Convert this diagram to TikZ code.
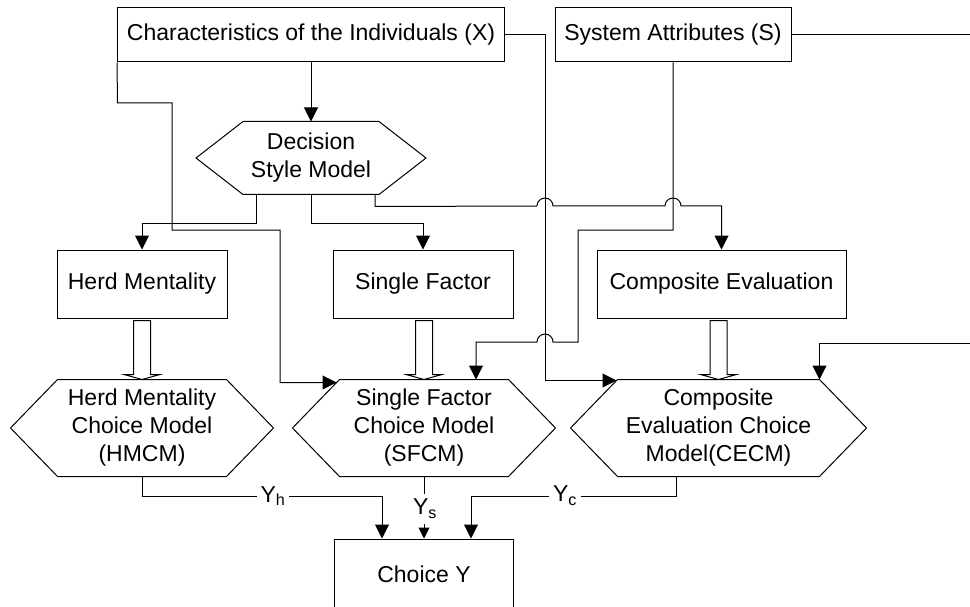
\documentclass[tikz,border=0pt]{standalone}
\usepackage{fontspec}
\setmainfont{Liberation Sans}
\usepackage{tikz}
\usetikzlibrary{calc}
\usetikzlibrary{arrows.meta}
\newcommand{\hollowarrow}[2]{
    \draw[fill=white] let \p1 = (#1.south), \p2 = (#2.north) in
    (\x2-8.5pt,\y1-2pt) -- (\x2-8.5pt,\y2+5pt) -- (\x2-18pt,\y2+5pt) -- (\x2,\y2)
    -- (\x2+18pt,\y2+5pt) -- (\x2+8.5pt,\y2+5pt) -- (\x2+8.5pt,\y1-2pt) -- cycle;
}

\begin{document}
\begin{tikzpicture}[x=1pt,y=1pt,line width=1pt,>={Triangle[length=14pt,width=14pt]},
    font=\fontsize{23}{28}\selectfont,
    plainbox/.style={draw,inner sep=0pt,align=center},
    hexa/.style 2 args={minimum width=#1,minimum height=#2,inner sep=0pt,align=center,
        append after command={\pgfextra{\draw (\tikzlastnode.north west) -- (\tikzlastnode.north east)
        -- ([xshift=47pt]\tikzlastnode.east) -- (\tikzlastnode.south east) -- (\tikzlastnode.south west)
        -- ([xshift=-47pt]\tikzlastnode.west) -- cycle;}}},
    lbl/.style={fill=white,inner xsep=4pt,inner ysep=5pt}]
\useasboundingbox (0,0) rectangle (970,-607);
\clip (0,0) rectangle (970,-607);
\node[plainbox,minimum width=387pt,minimum height=54pt] (chx) at (311,-35) {Characteristics of the Individuals (X)};
\node[plainbox,minimum width=236pt,minimum height=54pt] (sys) at (673,-35) {System Attributes (S)};
\node[hexa={135pt}{72pt}] (dsm) at (311,-158) {Decision\\Style Model};
\node[plainbox,minimum width=170pt,minimum height=68pt] (hm) at (142,-284) {Herd Mentality};
\node[plainbox,minimum width=180pt,minimum height=68pt] (sf) at (423,-284) {Single Factor};
\node[plainbox,minimum width=249pt,minimum height=68pt] (ce) at (721.5,-284) {Composite Evaluation};
\node[hexa={168pt}{96pt}] (hmcm) at (142,-428) {Herd Mentality\\Choice Model\\(HMCM)};
\node[hexa={168pt}{96pt}] (sfcm) at (424,-428) {Single Factor\\Choice Model\\(SFCM)};
\node[hexa={201pt}{96pt}] (cecm) at (718.5,-428) {Composite\\Evaluation Choice\\Model(CECM)};
\node[plainbox,minimum width=179pt,minimum height=70pt] (choice) at (424,-574) {Choice Y};
\draw[->] (chx.south) -- (dsm.north);
\draw[->] (chx.south west) -- (117.5,-103) -- (172,-103) -- (172,-230) -- (280,-230) |- ($(sfcm.north west)+(-3,-3)$);
\draw[->] (chx.east) -- (545,-35) |- ($(cecm.north west)+(-1,-1)$);
\draw[->] (sys.east) -- (990,-35) -- (990,-343) -| (cecm.north east);
\draw[->] (sys.south) -- (673,-230) -- (578,-230) -- (578,-342) -- (553,-342)
    arc[start angle=0,end angle=180,radius=8] -| ($(sfcm.north)+(52,0)$);
\draw[->] ($(dsm.south)+(-55,0)$) -- ++(0,-29) -| (hm.north);
\draw[->] (dsm.south) -- ++(0,-29) -| (sf.north);
\draw[->] ($(dsm.south)+(64,0)$) -- ++(0,-12) -- (537,-206) arc[start angle=180,end angle=0,radius=8]
    -- (665,-206) arc[start angle=180,end angle=0,radius=8] -| (ce.north);
\hollowarrow{hm}{hmcm}
\hollowarrow{sf}{sfcm}
\hollowarrow{ce}{cecm}
\draw[->] (hmcm.south) -- (142,-496) -| ($(choice.north)+(-42,0)$);
\draw[-{Triangle[length=11pt,width=11pt]}] (sfcm.south) -- (choice.north);
\draw[->] ($(cecm.south)+(-42.5,0)$) -- ++(0,-20) -| ($(choice.north)+(47,0)$);
\node[lbl] (yh) at (273,-496) {Y\textsubscript{h}};
\node[lbl] (ys) at (425,-509) {Y\textsubscript{s}};
\node[lbl] (yc) at (565,-496) {Y\textsubscript{c}};
\end{tikzpicture}
\end{document}
